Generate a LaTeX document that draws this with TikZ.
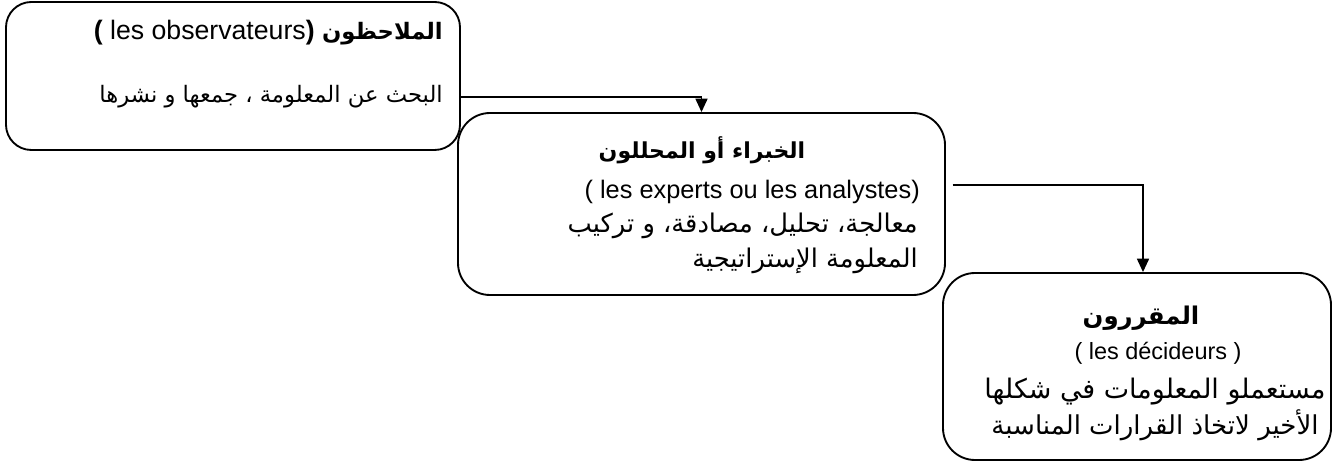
\documentclass[tikz,border=0pt]{standalone}
\usepackage{fontspec}
\setmainfont{Liberation Sans}
\newfontfamily\arabicfont[Script=Arabic]{DejaVu Sans}
\TeXXeTstate=1
\usetikzlibrary{arrows.meta,positioning,calc}

\begin{document}
\begin{tikzpicture}[x=0.75pt,y=-0.75pt,>={Triangle[width=9pt,length=10pt]},
  box/.style={draw,line width=1.4pt,rounded corners=19pt,inner sep=0pt},
  flow/.style={line width=1.1pt,->}]
  \useasboundingbox (0,0) rectangle (1336,466);
  % The three boxes
  \node[box,minimum width=340.5pt,minimum height=111pt] (obs) at (233,76) {};
  \node[box,rounded corners=24pt,minimum width=365.25pt,minimum height=136.5pt] (exp) at (701.5,204) {};
  \node[box,rounded corners=24pt,minimum width=291pt,minimum height=140.25pt] (dec) at (1137,366.5) {};
  % Observers
  \node[anchor=east,inner sep=0pt,font=\fontsize{20}{24}\selectfont] (obsTitle) at (443,33)
    {\textbf{(} les observateurs\textbf{)} {\arabicfont\bfseries\fontsize{17}{20}\selectfont\beginR الملاحظون\endR}};
  \node[anchor=east,inner sep=0pt,font=\arabicfont\fontsize{17}{20}\selectfont] (obsTask) at (443,97)
    {\beginR البحث عن المعلومة ، جمعها و نشرها\endR};
  % Experts
  \node[inner sep=0pt,font=\arabicfont\bfseries\fontsize{16.5}{20}\selectfont] (expTitle) at (702,150)
    {\beginR الخبراء أو المحللون\endR};
  \node[anchor=east,inner sep=0pt,font=\fontsize{19}{23}\selectfont] (expFr) at (920,192)
    {( les experts ou les analystes)};
  \node[anchor=east,inner sep=0pt,font=\arabicfont\fontsize{19.3}{23}\selectfont] (expTask) at (918,226)
    {\beginR معالجة، تحليل، مصادقة، و تركيب\endR};
  \node[anchor=east,inner sep=0pt,font=\arabicfont\fontsize{19.3}{23}\selectfont] (expTaskB) at (918,261)
    {\beginR المعلومة الإستراتيجية\endR};
  % Decision makers
  \node[inner sep=0pt,font=\arabicfont\bfseries\fontsize{18.3}{22}\selectfont] (decTitle) at (1141,318)
    {\beginR المقررون\endR};
  \node[inner sep=0pt,font=\fontsize{17.6}{21}\selectfont] (decFr) at (1158,353)
    {( les décideurs )};
  \node[inner sep=0pt,font=\arabicfont\fontsize{20.2}{24}\selectfont] (decTask) at (1155,392)
    {\beginR مستعملو المعلومات في شكلها\endR};
  \node[inner sep=0pt,font=\arabicfont\fontsize{19.5}{23}\selectfont] (decTaskB) at (1155,425)
    {\beginR الأخير لاتخاذ القرارات المناسبة\endR};
  % Connectors
  \draw[flow] ([yshift=-15.75pt]obs.east) -| (exp.north);
  \draw[flow] ([xshift=5pt,yshift=14.25pt]exp.east) -| ([xshift=4.5pt]dec.north);
\end{tikzpicture}
\end{document}
